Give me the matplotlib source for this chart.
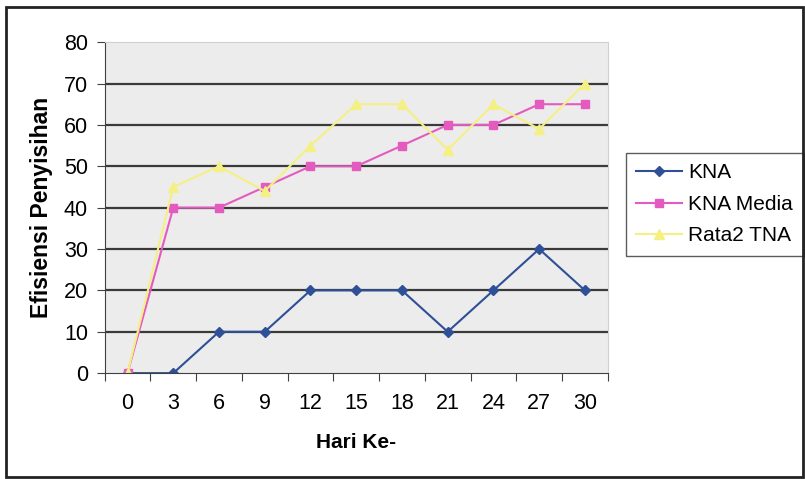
import matplotlib.pyplot as plt
from matplotlib.patches import Rectangle

plt.rcParams['font.family'] = ['Liberation Sans', 'DejaVu Sans']

hari = ["0", "3", "6", "9", "12", "15", "18", "21", "24", "27", "30"]
kna = [0, 0, 10, 10, 20, 20, 20, 10, 20, 30, 20]
kna_media = [0, 40, 40, 45, 50, 50, 55, 60, 60, 65, 65]
rata2_tna = [0, 45, 50, 44, 55, 65, 65, 54, 65, 59, 70]

fig = plt.figure(figsize=(8.05, 4.79), dpi=100)
ax = fig.add_axes([0.130, 0.221, 0.625, 0.691])
ax.set_facecolor("#ececec")

idx = list(range(len(hari)))
ax.plot(idx, kna, color="#2f4f96", lw=1.5, marker="D", ms=5.5, label="KNA")
ax.plot(idx, kna_media, color="#e45bc0", lw=1.5, marker="s", ms=6, label="KNA Media")
ax.plot(idx, rata2_tna, color="#f4f083", lw=1.5, marker="^", ms=7, label="Rata2 TNA")

ax.set_xlim(-0.5, len(hari) - 0.5)
ax.set_ylim(0, 80)
ax.set_yticks(range(0, 81, 10))

# category labels sit between the boundary ticks
ax.set_xticks([i - 0.5 for i in range(len(hari) + 1)])
ax.set_xticklabels([])
ax.set_xticks(idx, minor=True)
ax.set_xticklabels(hari, minor=True)
ax.tick_params(axis="x", which="major", direction="out", length=6, color="#404040")
ax.tick_params(axis="x", which="minor", length=0, pad=14, labelsize=15.5)
ax.tick_params(axis="y", direction="out", length=6, color="#404040", labelsize=15.5, pad=6)

for y in range(10, 80, 10):
    ax.axhline(y, color="#3a3a3a", lw=1.6, zorder=1)

ax.spines["left"].set_color("#404040")
ax.spines["bottom"].set_color("#404040")
ax.spines["top"].set_color("#d0d0d0")
ax.spines["right"].set_color("#d0d0d0")

ax.set_xlabel("Hari Ke-", fontsize=15, fontweight="bold", labelpad=14)
ax.set_ylabel("Efisiensi Penyisihan", fontsize=16.5, fontweight="bold", labelpad=8)

leg = ax.legend(loc="upper left", bbox_to_anchor=(1.036, 0.665), fontsize=15,
                frameon=True, fancybox=False, edgecolor="#333333",
                handlelength=2.2, handletextpad=0.3, borderpad=0.5,
                labelspacing=0.6, borderaxespad=0)
leg.get_frame().set_linewidth(1.0)

fig.patches.append(Rectangle((6 / 805, 2 / 479), 797 / 805, 470 / 479,
                             transform=fig.transFigure, fill=False,
                             edgecolor="#222222", lw=2))

fig.savefig("out.png", dpi=100)
